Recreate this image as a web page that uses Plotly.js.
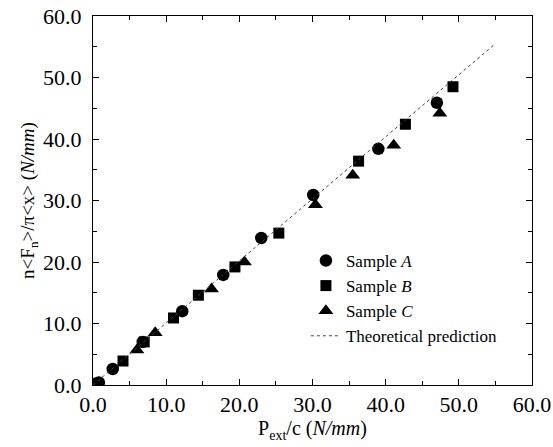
<!DOCTYPE html>
<html><head><meta charset="utf-8">
<script src="https://cdn.plot.ly/plotly-3.0.1.min.js"></script>
<style>body{margin:0;background:#fff}#c{width:553px;height:447px}</style>
</head><body><div id="c"></div>
<script>
const aX = [0.3, 0.8, 2.7, 6.8, 12.2, 17.8, 23.0, 30.1, 39.0, 47.0];
const aY = [0.2, 0.4, 2.6, 7.0, 12.0, 17.9, 23.9, 30.9, 38.4, 45.9];
const bX = [4.1, 7.0, 11.0, 14.4, 19.4, 25.4, 36.3, 42.7, 49.2];
const bY = [3.9, 7.0, 10.9, 14.6, 19.2, 24.7, 36.4, 42.4, 48.5];
const cX = [6.0, 8.5, 16.2, 20.7, 30.4, 35.5, 41.1, 47.4];
const cY = [5.7, 8.5, 15.6, 20.0, 29.3, 34.1, 39.0, 44.2];
const thX = [0, 55];
const thY = [0, 55.5];
const xTicks = [0, 10, 20, 30, 40, 50, 60];
const yTicks = [0, 10, 20, 30, 40, 50, 60];

const font = 'Liberation Serif';
const traces = [
  {x: aX, y: aY, mode: 'markers', name: 'Sample <i>A</i>', marker: {symbol: 'circle', size: 12.5, color: '#000'}},
  {x: bX, y: bY, mode: 'markers', name: 'Sample <i>B</i>', marker: {symbol: 'square', size: 11, color: '#000'}},
  {x: cX, y: cY, mode: 'markers', name: 'Sample <i>C</i>', marker: {symbol: 'triangle-up', size: 13, color: '#000'}},
  {x: thX, y: thY, mode: 'lines', name: 'Theoretical prediction', line: {color: '#444', width: 1, dash: 'dot'}}
];
const ax = (ticks) => ({
  range: [0, 60], tickvals: ticks, tickformat: '.1f', automargin: false,
  ticks: 'inside', ticklen: 6, tickcolor: '#000', mirror: 'ticks',
  showline: true, linecolor: '#000', linewidth: 1, showgrid: false, zeroline: false,
  minor: {dtick: 5, ticks: 'inside', ticklen: 4, tickcolor: '#000', showgrid: false},
  tickfont: {family: font, size: 22, color: '#000'}
});
const xa = ax(xTicks);
xa.title = {text: 'P<sub>ext</sub>/c (<i>N/mm</i>)', font: {family: font, size: 20, color: '#000'}, standoff: 0};
const ya = ax(yTicks);
ya.ticklabelstandoff = 6;
ya.title = {text: 'n&lt;F<sub>n</sub>&gt;/π&lt;x&gt; (<i>N/mm</i>)', font: {family: font, size: 19, color: '#000'}, standoff: 3};
const layout = {
  width: 553, height: 447,
  margin: {l: 93, r: 21, t: 16, b: 62},
  paper_bgcolor: '#fff', plot_bgcolor: '#fff',
  xaxis: xa, yaxis: ya,
  showlegend: true,
  legend: {x: 0.485, y: 0.385, xanchor: 'left', yanchor: 'top', bgcolor: 'rgba(0,0,0,0)',
    font: {family: font, size: 17, color: '#000'}, itemwidth: 30, tracegroupgap: 0},
  font: {family: font, color: '#000'}
};
Plotly.newPlot('c', traces, layout, {displayModeBar: false, staticPlot: true});
</script>
</body></html>
